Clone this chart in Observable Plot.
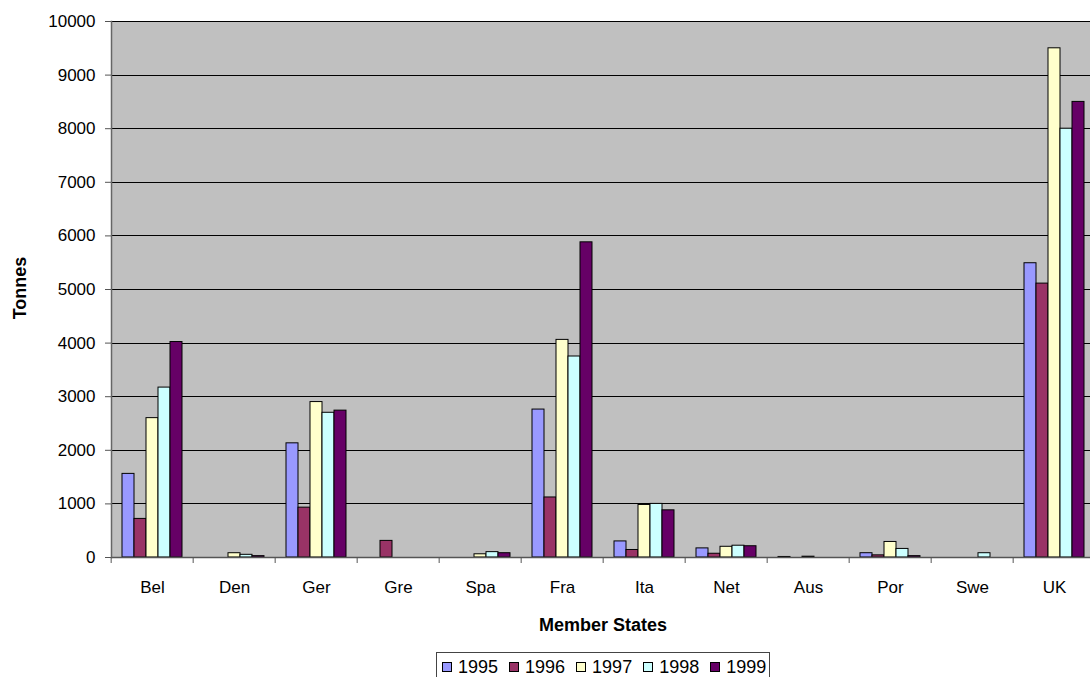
<!DOCTYPE html>
<html>
<head>
<meta charset="utf-8">
<script src="https://cdn.jsdelivr.net/npm/d3@7"></script>
<script src="https://cdn.jsdelivr.net/npm/@observablehq/plot@0.6"></script>
<style>
  html, body { margin: 0; padding: 0; background: #fff; }
  body { font-family: "Liberation Sans", Arial, sans-serif; }
  #wrap { position: relative; width: 1090px; height: 677px; overflow: hidden; }
  #chart { position: absolute; left: 0; top: 0; }
  .ytitle { position: absolute; left: 20px; top: 288px; transform: translate(-50%, -50%) rotate(-90deg);
    font-weight: bold; font-size: 18px; line-height: 18px; white-space: nowrap; color: #000; }
  .xtitle { position: absolute; left: 603px; top: 616px; transform: translateX(-50%);
    font-weight: bold; font-size: 18px; line-height: 18px; white-space: nowrap; color: #000; }
  .legend { position: absolute; left: 436px; top: 652px; width: 334px; height: 40px;
    border: 1px solid #444; box-sizing: border-box; padding: 5px 0 0 5px; display: flex; }
  .item { display: flex; align-items: center; margin-right: 11px; font-size: 18px; line-height: 18px; height: 18px; }
  .sw { width: 8px; height: 8px; border: 1px solid #000; margin-right: 6px; }
</style>
</head>
<body>
<div id="wrap">
  <div id="chart"></div>
  <div class="ytitle">Tonnes</div>
  <div class="xtitle">Member States</div>
  <div class="legend" id="legend"></div>
</div>
<script>
const countries = ["Bel","Den","Ger","Gre","Spa","Fra","Ita","Net","Aus","Por","Swe","UK"];
const years = ["1995","1996","1997","1998","1999"];
const v1995 = [1560, 0, 2130, 0, 0, 2760, 300, 170, 10, 80, 0, 5490];
const v1996 = [720, 0, 930, 310, 0, 1120, 140, 70, 0, 40, 0, 5110];
const v1997 = [2600, 80, 2900, 0, 60, 4060, 980, 200, 15, 290, 0, 9500];
const v1998 = [3170, 50, 2700, 0, 100, 3750, 1000, 220, 0, 160, 80, 8000];
const v1999 = [4020, 25, 2740, 0, 80, 5880, 880, 210, 0, 25, 0, 8500];
const yTicks = [0,1000,2000,3000,4000,5000,6000,7000,8000,9000,10000];
const colors = ["#9999FF","#993366","#FFFFCC","#CCFFFF","#660066"];

const series = [v1995, v1996, v1997, v1998, v1999];
const data = [];
countries.forEach((c, i) => years.forEach((y, k) => data.push({country: c, year: y, value: series[k][i]})));

const W = 1090, ML = 107, MR = -9;
const bw = (W - ML - MR) / countries.length;

const chart = Plot.plot({
  width: W,
  height: 600,
  marginLeft: ML,
  marginRight: MR,
  marginTop: 21,
  marginBottom: 43,
  style: {fontFamily: "Liberation Sans, Arial, sans-serif", background: "transparent"},
  fx: {domain: countries, paddingInner: 0, paddingOuter: 0, label: null},
  x: {domain: years, paddingInner: 0, paddingOuter: 0.73, axis: null},
  y: {domain: [0, 10000], label: null},
  color: {domain: years, range: colors},
  marks: [
    Plot.frame({fill: "#C0C0C0", insetLeft: -1, insetRight: -1, shapeRendering: "crispEdges"}),
    Plot.ruleY(yTicks.slice(1), {stroke: "#000", strokeWidth: 1, shapeRendering: "crispEdges"}),
    Plot.barY(data.filter(d => d.value > 0), {fx: "country", x: "year", y: "value", fill: "year", stroke: "#000", strokeWidth: 1}),
    Plot.ruleY([0], {stroke: "#555", strokeWidth: 1.5}),
    Plot.frame({anchor: "left", fx: () => countries[0], stroke: "#666", strokeWidth: 1.5}),
    Plot.axisY({ticks: yTicks, tickSize: 6, tickPadding: 10, tickFormat: d => String(d), fontSize: 17, label: null, stroke: "#555", color: "#000"}),
    Plot.axisFx({anchor: "bottom", tickSize: 0, tickPadding: 23, fontSize: 17, label: null, color: "#000"}),
    Plot.axisFx({anchor: "bottom", tickSize: 6, tickFormat: () => "", dx: -bw / 2, label: null, stroke: "#555"})
  ]
});
document.getElementById("chart").appendChild(chart);

const legend = document.getElementById("legend");
years.forEach((y, k) => {
  const it = document.createElement("div");
  it.className = "item";
  const sw = document.createElement("div");
  sw.className = "sw";
  sw.style.background = colors[k];
  const t = document.createElement("span");
  t.textContent = y;
  it.appendChild(sw); it.appendChild(t);
  legend.appendChild(it);
});
</script>
</body>
</html>
